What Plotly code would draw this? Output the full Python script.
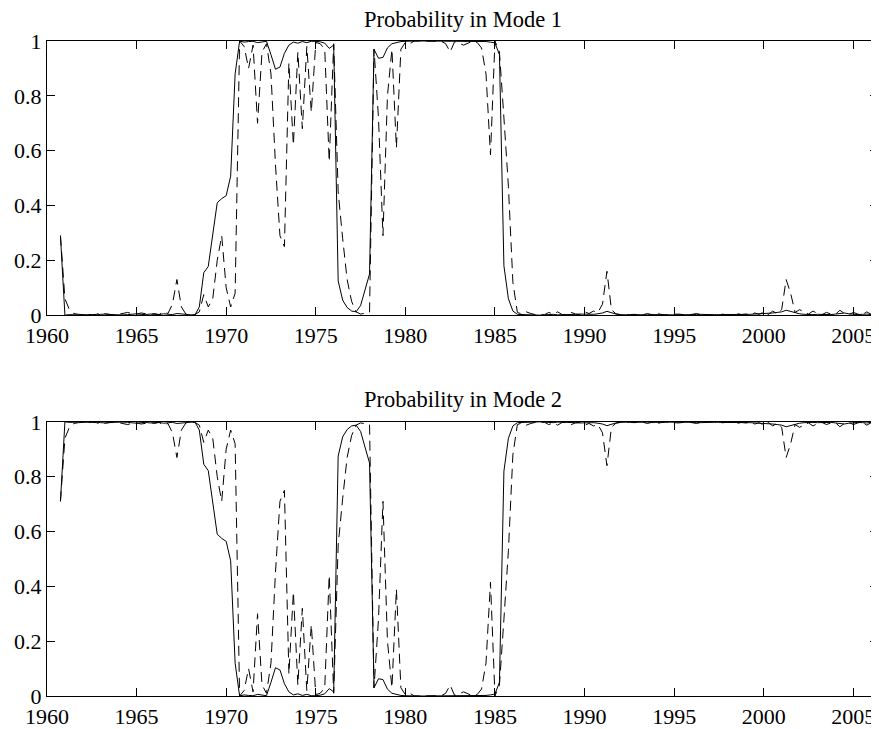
import plotly.graph_objects as go
from plotly.subplots import make_subplots

# Quarterly dates: 1960Q4 (1960.75) to 2006Q2 (2006.25)
dates = [1960.75 + 0.25 * i for i in range(183)]

# Probability of Mode 1, smoothed (solid), grouped by year (Q1..Q4)
smoothed_mode1 = [
    0.29,                               # 1960 (Q4)
    0.000, 0.002, 0.001, 0.001,         # 1961
    0.002, 0.001, 0.000, 0.001,         # 1962
    0.003, 0.004, 0.002, 0.001,         # 1963
    0.000, 0.001, 0.002, 0.004,         # 1964
    0.005, 0.003, 0.002, 0.004,         # 1965
    0.003, 0.002, 0.005, 0.003,         # 1966
    0.002, 0.006, 0.004, 0.002,         # 1967
    0.001, 0.000, 0.030, 0.155,         # 1968
    0.178, 0.295, 0.410, 0.425,         # 1969
    0.436, 0.507, 0.880, 1.000,         # 1970
    0.996, 0.998, 0.999, 0.994,         # 1971
    0.997, 0.999, 0.950, 0.897,         # 1972
    0.905, 0.955, 0.985, 0.996,         # 1973
    0.992, 0.998, 0.994, 0.999,         # 1974
    0.999, 0.997, 0.992, 0.973,         # 1975
    0.985, 0.125, 0.055, 0.028,         # 1976
    0.015, 0.012, 0.035, 0.090,         # 1977
    0.150, 0.970, 0.937, 0.940,         # 1978
    0.975, 0.990, 0.995, 0.998,         # 1979
    0.999, 1.000, 1.000, 1.000,         # 1980
    1.000, 1.000, 1.000, 1.000,         # 1981
    1.000, 0.999, 0.998, 1.000,         # 1982
    0.999, 0.998, 0.999, 1.000,         # 1983
    1.000, 0.999, 0.998, 0.996,         # 1984
    0.993, 0.950, 0.180, 0.060,         # 1985
    0.015, 0.003, 0.002, 0.001,         # 1986
    0.002, 0.001, 0.000, 0.001,         # 1987
    0.002, 0.003, 0.001, 0.001,         # 1988
    0.002, 0.001, 0.003, 0.004,         # 1989
    0.003, 0.002, 0.003, 0.005,         # 1990
    0.008, 0.014, 0.009, 0.004,         # 1991
    0.002, 0.001, 0.001, 0.002,         # 1992
    0.001, 0.000, 0.001, 0.002,         # 1993
    0.003, 0.002, 0.001, 0.001,         # 1994
    0.001, 0.002, 0.001, 0.000,         # 1995
    0.001, 0.002, 0.003, 0.002,         # 1996
    0.001, 0.001, 0.002, 0.002,         # 1997
    0.001, 0.001, 0.002, 0.001,         # 1998
    0.002, 0.003, 0.004, 0.005,         # 1999
    0.004, 0.006, 0.008, 0.010,         # 2000
    0.012, 0.018, 0.014, 0.008,         # 2001
    0.005, 0.003, 0.002, 0.002,         # 2002
    0.003, 0.002, 0.001, 0.002,         # 2003
    0.004, 0.006, 0.008, 0.005,         # 2004
    0.003, 0.002, 0.003, 0.004,         # 2005
    0.002, 0.001,                       # 2006 (Q1-Q2)
]

# Probability of Mode 1, filtered (dashed)
filtered_mode1 = [
    0.29,                               # 1960 (Q4)
    0.060, 0.020, 0.006, 0.003,         # 1961
    0.002, 0.004, 0.001, 0.003,         # 1962
    0.008, 0.005, 0.002, 0.001,         # 1963
    0.003, 0.006, 0.010, 0.005,         # 1964
    0.004, 0.008, 0.006, 0.003,         # 1965
    0.006, 0.002, 0.012, 0.006,         # 1966
    0.040, 0.130, 0.030, 0.004,         # 1967
    0.001, 0.002, 0.012, 0.075,         # 1968
    0.030, 0.060, 0.200, 0.290,         # 1969
    0.100, 0.030, 0.080, 1.000,         # 1970
    0.980, 0.900, 0.985, 0.700,         # 1971
    0.960, 0.990, 0.880, 0.550,         # 1972
    0.290, 0.250, 0.920, 0.620,         # 1973
    0.960, 0.680, 0.980, 0.740,         # 1974
    0.995, 0.990, 0.970, 0.560,         # 1975
    0.990, 0.450, 0.280, 0.130,         # 1976
    0.050, 0.012, 0.004, 0.006,         # 1977
    0.010, 0.970, 0.720, 0.290,         # 1978
    0.800, 0.970, 0.610, 0.970,         # 1979
    0.995, 0.990, 1.000, 1.000,         # 1980
    1.000, 0.998, 1.000, 1.000,         # 1981
    0.999, 0.990, 0.960, 0.998,         # 1982
    0.990, 0.985, 0.992, 1.000,         # 1983
    0.995, 0.975, 0.880, 0.585,         # 1984
    1.000, 0.960, 0.720, 0.470,         # 1985
    0.120, 0.010, 0.004, 0.012,         # 1986
    0.006, 0.002, 0.003, 0.001,         # 1987
    0.010, 0.004, 0.012, 0.002,         # 1988
    0.003, 0.010, 0.004, 0.002,         # 1989
    0.012, 0.006, 0.015, 0.010,         # 1990
    0.040, 0.160, 0.020, 0.005,         # 1991
    0.002, 0.004, 0.001, 0.003,         # 1992
    0.002, 0.001, 0.006, 0.002,         # 1993
    0.008, 0.003, 0.001, 0.002,         # 1994
    0.001, 0.004, 0.002, 0.001,         # 1995
    0.003, 0.006, 0.002, 0.001,         # 1996
    0.002, 0.001, 0.005, 0.003,         # 1997
    0.001, 0.002, 0.006, 0.002,         # 1998
    0.004, 0.002, 0.008, 0.003,         # 1999
    0.012, 0.002, 0.015, 0.005,         # 2000
    0.020, 0.130, 0.080, 0.010,         # 2001
    0.020, 0.012, 0.004, 0.015,         # 2002
    0.006, 0.002, 0.010, 0.004,         # 2003
    0.003, 0.018, 0.006, 0.002,         # 2004
    0.010, 0.004, 0.002, 0.012,         # 2005
    0.003, 0.001,                       # 2006 (Q1-Q2)
]

# Mode 2 is the complement of Mode 1
smoothed_mode2 = [1 - v for v in smoothed_mode1]
filtered_mode2 = [1 - v for v in filtered_mode1]

titles = ["Probability in Mode 1", "Probability in Mode 2"]
x_ticks = [1960, 1965, 1970, 1975, 1980, 1985, 1990, 1995, 2000, 2005]
y_ticks = [0, 0.2, 0.4, 0.6, 0.8, 1]
y_tick_text = ["0", "0.2", "0.4", "0.6", "0.8", "1"]

FONT = "Liberation Serif, Times New Roman, serif"
OFF = 8                      # browser body margin
W, H = 879 - OFF, 729 - OFF  # figure size inside the page
# target page-pixel positions of the axes boxes
PLOT_L, PLOT_R = 47, 879
TOP_Y1, TOP_Y0 = 41, 316
BOT_Y1, BOT_Y0 = 423, 698
ML = PLOT_L - OFF
MR = 0
MT = TOP_Y1 - OFF
MB = H - (BOT_Y0 - OFF)
plot_h = H - MT - MB


def paper_y(page_py):
    return (H - MB - (page_py - OFF)) / plot_h


top_dom = [paper_y(TOP_Y0), 1.0]
bot_dom = [0.0, paper_y(BOT_Y1)]

fig = make_subplots(rows=2, cols=1)
series = [(smoothed_mode1, filtered_mode1), (smoothed_mode2, filtered_mode2)]
for r, (sm, fl) in enumerate(series, start=1):
    fig.add_trace(go.Scatter(x=dates, y=sm, mode="lines",
                             line=dict(color="black", width=1),
                             showlegend=False, hoverinfo="skip"), row=r, col=1)
    fig.add_trace(go.Scatter(x=dates, y=fl, mode="lines",
                             line=dict(color="black", width=1, dash="10px,6px"),
                             showlegend=False, hoverinfo="skip"), row=r, col=1)

axis_common = dict(showline=True, linecolor="black", linewidth=1.3, mirror="ticks",
                   ticks="inside", ticklen=8, tickwidth=1, tickcolor="black",
                   showgrid=False, zeroline=False,
                   tickfont=dict(family=FONT, size=22, color="black"))
x_span = (PLOT_R - PLOT_L) / 17.94
for r in (1, 2):
    fig.update_xaxes(range=[1960, 1960 + x_span],
                     tickvals=x_ticks, ticktext=[str(t) for t in x_ticks],
                     row=r, col=1, **axis_common)
    fig.update_yaxes(range=[0, 1], tickvals=y_ticks, ticktext=y_tick_text,
                     row=r, col=1, **axis_common)

fig.update_layout(yaxis=dict(domain=top_dom), yaxis2=dict(domain=bot_dom))

title_page_y = [19, 401]
for t, py in zip(titles, title_page_y):
    fig.add_annotation(text=t, xref="paper", yref="paper", x=0.5,
                       y=paper_y(py), xanchor="center", yanchor="middle",
                       showarrow=False, font=dict(family=FONT, size=22.5, color="black"))

fig.update_layout(width=W, height=H, margin=dict(l=ML, r=MR, t=MT, b=MB, pad=0),
                  paper_bgcolor="white", plot_bgcolor="white")

fig.write_html("out.html")
